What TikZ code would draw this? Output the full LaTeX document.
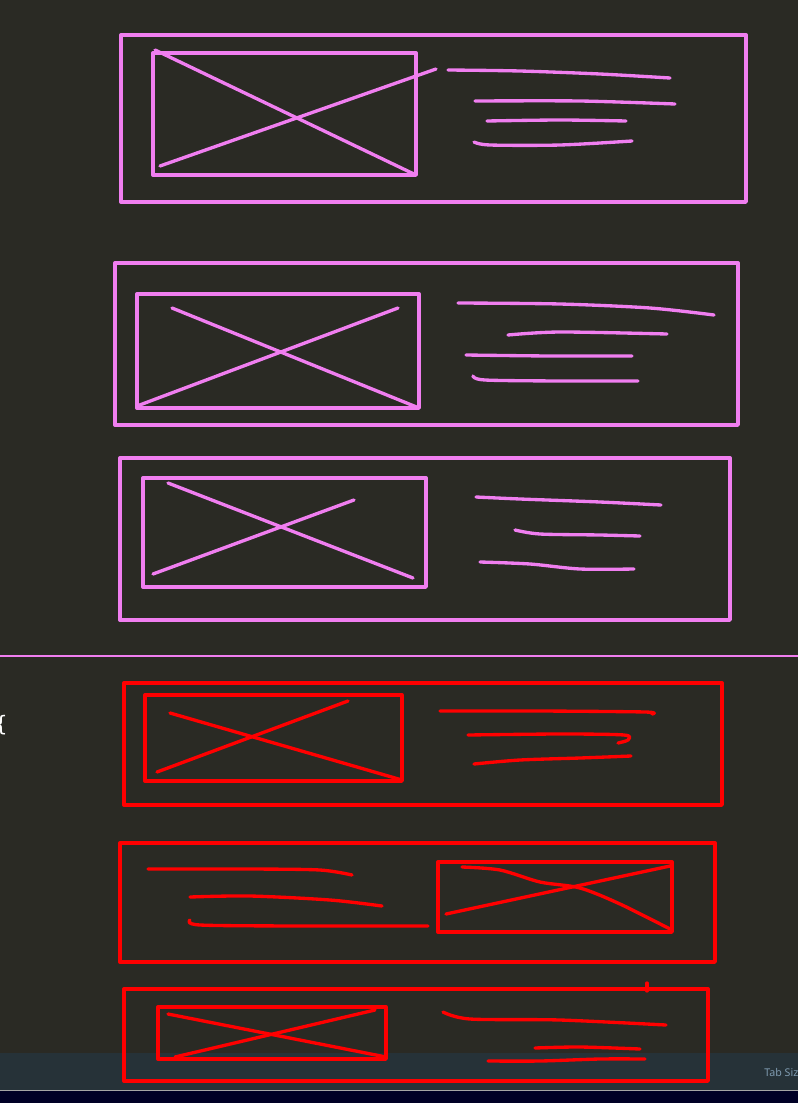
\documentclass[tikz,border=0pt]{standalone}
\usepackage{fontspec}
\setsansfont{Noto Sans}
\newfontfamily\codefont{DejaVu Sans Mono}
\usetikzlibrary{positioning}
\definecolor{editorbg}{HTML}{2A2A24}
\definecolor{statusbg}{HTML}{263238}
\definecolor{statusfg}{HTML}{7F9BB0}
\definecolor{pinkink}{HTML}{F07EF0}
\definecolor{redink}{HTML}{FF0000}
\tikzset{
  pinkpen/.style={draw=pinkink,line width=2.5pt,line cap=round,line join=round},
  redpen/.style={draw=redink,line width=2.5pt,line cap=round,line join=round},
}

\begin{document}
\begin{tikzpicture}[x=0.75pt,y=-0.75pt]
  \path[use as bounding box] (0,0) rectangle (798,1103);
  \clip (0,0) rectangle (798,1103);
  % editor background, status bar and the strip under it
  \fill[editorbg] (0,0) rectangle (798,1103);
  \fill[statusbg] (0,1053) rectangle (798,1090);
  \fill[black!85!blue] (0,1091) rectangle (798,1103);
  \draw[gray!70,line width=0.8pt] (0,1090.5) -- (798,1090.5);
  \node[anchor=west,inner sep=0pt,text=statusfg,font=\sffamily\fontsize{8}{9}\selectfont] (tabsize) at (764,1072) {Tab Size};
  \node[anchor=center,inner sep=0pt,text=white,font=\codefont\fontsize{16}{18}\selectfont] (brace) at (1,725) {\{};

  % first pink card
  \draw[pinkpen] (121,35) rectangle (746,202);
  \draw[pinkpen] (153,53) rectangle (416,175);
  \draw[pinkpen] (155,50) -- (416,175);
  \draw[pinkpen] (160,166) -- (436,69);
  \draw[pinkpen] plot[smooth] coordinates {(448,70) (520,71) (600,74) (670,78)};
  \draw[pinkpen] plot[smooth] coordinates {(475,101) (580,101) (675,104)};
  \draw[pinkpen] plot[smooth] coordinates {(487,121) (560,120) (626,121)};
  \draw[pinkpen] plot[smooth] coordinates {(474,142) (490,145) (560,145) (632,141)};

  % second pink card
  \draw[pinkpen] (115,263) rectangle (738,425);
  \draw[pinkpen] (137,294) rectangle (419,408);
  \draw[pinkpen] (172,308) -- (419,408);
  \draw[pinkpen] (137,406) -- (398,308);
  \draw[pinkpen] plot[smooth] coordinates {(458,303) (560,304) (650,308) (714,315)};
  \draw[pinkpen] plot[smooth] coordinates {(508,335) (560,332) (667,334)};
  \draw[pinkpen] plot[smooth] coordinates {(466,355) (550,356) (632,356)};
  \draw[pinkpen] plot[smooth] coordinates {(473,376) (485,380) (560,381) (638,381)};

  % third pink card
  \draw[pinkpen] (120,458) rectangle (730,620);
  \draw[pinkpen] (143,478) rectangle (426,587);
  \draw[pinkpen] (168,483) -- (413,578);
  \draw[pinkpen] (153,574) -- (354,500);
  \draw[pinkpen] plot[smooth] coordinates {(476,497) (520,499) (600,502) (661,505)};
  \draw[pinkpen] plot[smooth] coordinates {(515,530) (540,534) (600,535) (640,536)};
  \draw[pinkpen] plot[smooth] coordinates {(480,562) (530,564) (580,569) (634,569)};

  % divider
  \draw[draw=pinkink,line width=2.2pt] (0,656) -- (798,656);

  % first red card
  \draw[redpen] (124,683) rectangle (722,805);
  \draw[redpen] (145,695) rectangle (402,781);
  \draw[redpen] (170,713) -- (402,780);
  \draw[redpen] (157,772) -- (348,701);
  \draw[redpen] plot[smooth] coordinates {(440,711) (540,711) (645,712) (652,714)};
  \draw[redpen] plot[smooth] coordinates {(468,735) (560,734) (624,735) (628,740) (618,743)};
  \draw[redpen] plot[smooth] coordinates {(474,764) (520,760) (580,758) (631,756)};

  % second red card, picture on the right
  \draw[redpen] (120,843) rectangle (715,962);
  \draw[redpen] (438,862) rectangle (672,932);
  \draw[redpen] plot[smooth] coordinates {(462,867) (500,870) (540,882) (580,888) (620,904) (672,930)};
  \draw[redpen] (446,914) -- (670,866);
  \draw[redpen] plot[smooth] coordinates {(148,869) (250,869) (320,870) (352,875)};
  \draw[redpen] plot[smooth] coordinates {(190,897) (250,896) (330,900) (382,906)};
  \draw[redpen] plot[smooth] coordinates {(190,920) (200,925) (300,926) (428,926)};

  % third red card, under the status bar
  \draw[redpen] (124,989) rectangle (708,1081);
  \draw[redpen] (158,1007) rectangle (386,1059);
  \draw[redpen] (168,1014) -- (386,1057);
  \draw[redpen] (175,1057) -- (375,1010);
  \draw[redpen] (647,983) -- (647,991);
  \draw[redpen] plot[smooth] coordinates {(443,1012) (470,1019) (560,1020) (666,1025)};
  \draw[redpen] plot[smooth] coordinates {(535,1048) (580,1047) (640,1049)};
  \draw[redpen] plot[smooth] coordinates {(488,1061) (540,1061) (600,1059) (645,1059)};
\end{tikzpicture}
\end{document}
